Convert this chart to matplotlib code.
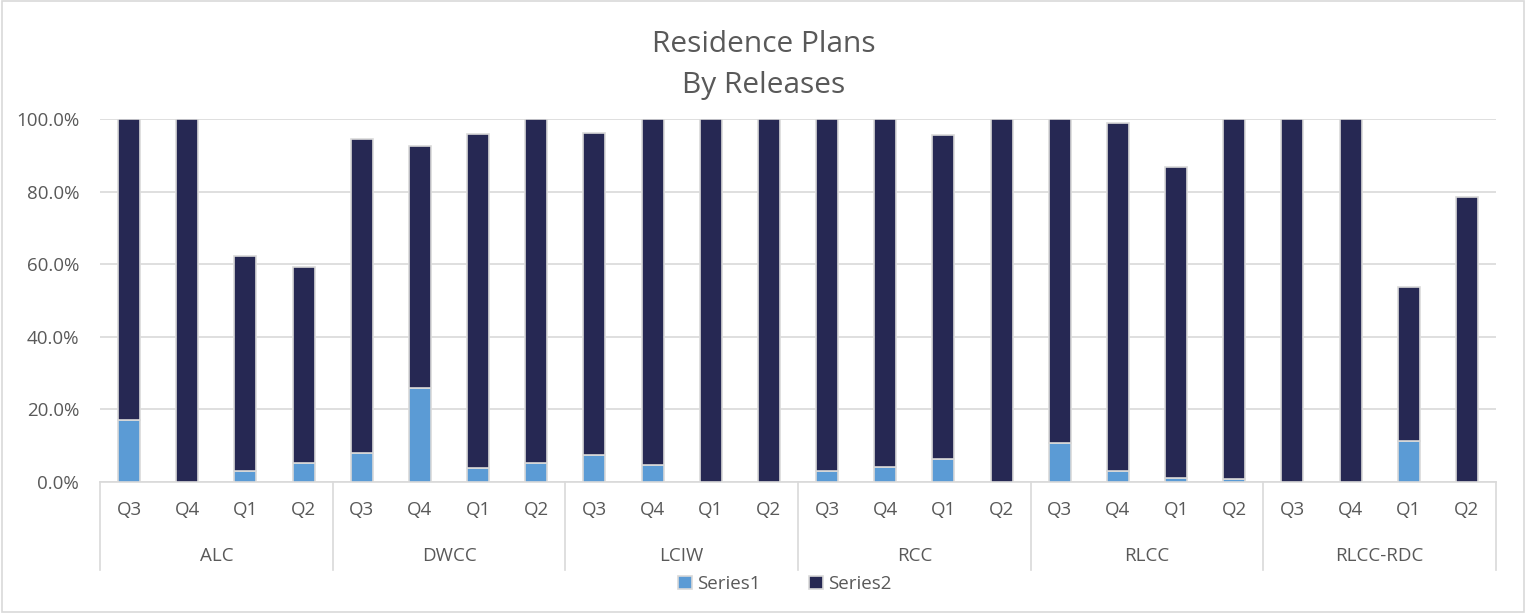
import matplotlib.pyplot as plt
import matplotlib.transforms as mtransforms
from matplotlib.patches import Rectangle
import numpy as np

plt.rcParams['font.family'] = ['Open Sans', 'DejaVu Sans']

# data (percent)
groups = ['ALC', 'DWCC', 'LCIW', 'RCC', 'RLCC', 'RLCC-RDC']
quarters = ['Q3', 'Q4', 'Q1', 'Q2']
series1 = [17.1, 0.0, 2.9, 5.1,
           8.1, 25.8, 3.8, 5.3,
           7.5, 4.6, 0.0, 0.0,
           2.9, 4.2, 6.2, 0.0,
           10.7, 3.1, 1.1, 0.8,
           0.0, 0.0, 11.3, 0.0]
totals = [100.0, 100.0, 62.2, 59.1,
          94.4, 92.5, 95.9, 100.0,
          96.1, 100.0, 100.0, 100.0,
          100.0, 100.0, 95.6, 100.0,
          100.0, 98.9, 86.7, 100.0,
          100.0, 100.0, 53.6, 78.5]
series2 = [t - s for t, s in zip(totals, series1)]

c1 = '#5b9bd5'
c2 = '#262853'
grid_c = '#d9d9d9'
txt_c = '#595959'

fig = plt.figure(figsize=(15.27, 6.13), dpi=100)
ax = fig.add_axes([100/1527, 131/613, 1396/1527, 363/613])

x = np.arange(len(series1))
w = 0.38
ax.bar(x, series1, w, color=c1, edgecolor=grid_c, linewidth=1.2, label='Series1', zorder=3)
ax.bar(x, series2, w, bottom=series1, color=c2, edgecolor=grid_c, linewidth=1.2, label='Series2', zorder=3)

ax.set_xlim(-0.5, len(series1) - 0.5)
ax.set_ylim(0, 100)
ax.set_yticks(np.arange(0, 101, 20))
ax.set_yticklabels(['%.1f%%' % v for v in range(0, 101, 20)], fontsize=13.5, color=txt_c)
ax.yaxis.grid(True, color=grid_c, linewidth=1.2, zorder=0)
ax.tick_params(axis='y', length=0, pad=15)
ax.set_xticks([])
for s in ['top', 'right', 'left']:
    ax.spines[s].set_visible(False)
ax.spines['bottom'].set_color(grid_c)
ax.spines['bottom'].set_linewidth(1.2)

# two-level category axis
trans = mtransforms.blended_transform_factory(ax.transData, ax.transAxes)
for i in x:
    ax.text(i, -0.077, quarters[i % 4], transform=trans, ha='center', va='center',
            fontsize=13.5, color=txt_c)
for g, name in enumerate(groups):
    ax.text(g * 4 + 1.5, -0.204, name, transform=trans, ha='center', va='center',
            fontsize=13.5, color=txt_c)
for b in range(len(groups) + 1):
    ax.plot([b * 4 - 0.5, b * 4 - 0.5], [0, -0.242], transform=trans, color=grid_c,
            linewidth=1.2, clip_on=False)

fig.text(764/1527, 1 - 44/613, 'Residence Plans', ha='center', va='center', fontsize=21.5, color=txt_c)
fig.text(764/1527, 1 - 86/613, 'By Releases', ha='center', va='center', fontsize=21.5, color=txt_c)

fig.legend(loc='center', bbox_to_anchor=(785/1527, 1 - 584/613), ncol=2, frameon=False,
           fontsize=13.5, labelcolor=txt_c, handlelength=0.7, handleheight=0.7,
           handletextpad=0.3, columnspacing=2.6)

fig.patches.append(Rectangle((0.001, 0.002), 0.997, 0.996, transform=fig.transFigure,
                             fill=False, edgecolor=grid_c, linewidth=1.2))

fig.savefig('out.png', dpi=100)
